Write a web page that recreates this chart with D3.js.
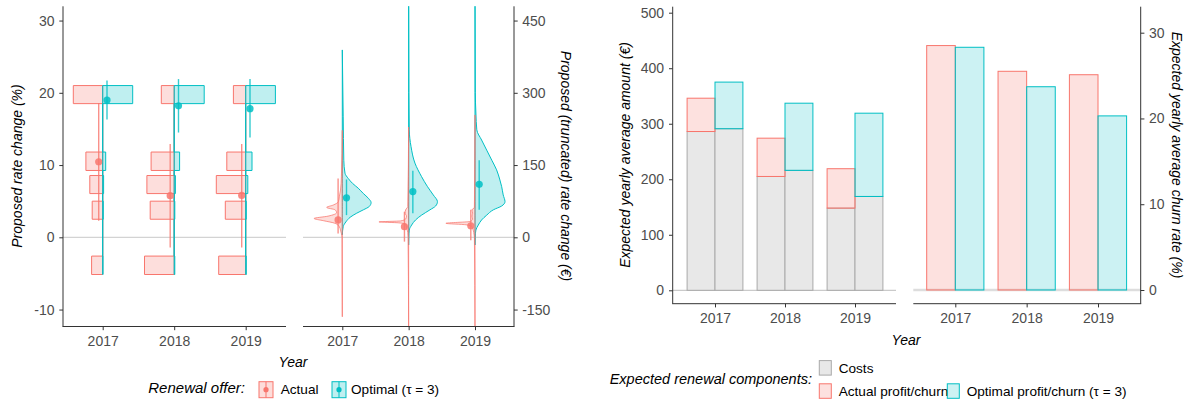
<!DOCTYPE html>
<html><head><meta charset="utf-8">
<script src="https://cdn.jsdelivr.net/npm/d3@7"></script>
<style>body{margin:0;background:#fff} text{font-family:"Liberation Sans",Arial,Helvetica,sans-serif}</style>
</head><body><svg id="c" width="1199" height="405"></svg>
<script>
// ---------- data ----------
const years = ["2017", "2018", "2019"];
const yearIdx = [1, 2, 3];
// histogram bins of proposed rate change (%)
const binLo = [18.5, 9.25, 6.05, 2.5, -5.15];
const binHi = [21.0, 11.8, 8.55, 5.0, -2.6];
// relative frequency per bin (per year)
const histActual = [[0.98, 0.56, 0.43, 0.35, 0.37], [0.43, 0.77, 0.91, 0.80, 0.99], [0.41, 0.63, 0.98, 0.68, 0.90]];
const histOptimal = [[1.0, 0.10, 0.03, 0.02, 0.01], [1.0, 0.18, 0.04, 0.02, 0.02], [0.99, 0.21, 0.07, 0.02, 0.02]];
// point ranges (%)
const rateActual = [10.46, 5.76, 5.8], rateActualLo = [2.3, -1.4, -1.4], rateActualHi = [18.6, 12.9, 12.9];
const rateOptimal = [19.0, 18.2, 17.8], rateOptimalLo = [16.3, 14.5, 13.8], rateOptimalHi = [21.7, 21.9, 21.9];
// violins of truncated rate change (€): [value, relative density]
const vioActual2017 = [[222, 0], [126, 0.03], [98, 0.06], [84, 0.1], [74, 0.13], [67, 0.3], [62, 0.52], [57, 0.24], [51, 0.19], [44, 0.47], [39, 0.94], [34.5, 0.63], [29, 0.24], [22, 0.1], [15, 0.06], [8, 0.03], [0, 0.01], [-165, 0]];
const vioActual2018 = [[229, 0], [64, 0.03], [57, 0.1], [50, 0.12], [44, 0.07], [38, 0.1], [34, 0.27], [32, 0.99], [30, 0.33], [27, 0.1], [20, 0.07], [10, 0.03], [0, 0.02], [-200, 0]];
const vioActual2019 = [[254, 0], [62, 0.02], [57, 0.1], [50, 0.08], [44, 0.1], [38, 0.08], [33, 0.15], [29, 0.97], [26, 0.3], [22, 0.1], [15, 0.06], [5, 0.03], [0, 0.02], [-200, 0]];
const vioOptimal2017 = [[389, 0], [250, 0.03], [160, 0.05], [133, 0.09], [122, 0.2], [112, 0.34], [102, 0.53], [91, 0.7], [81, 0.87], [72, 0.96], [64, 0.9], [57, 0.7], [50, 0.48], [41.5, 0.26], [32, 0.12], [22, 0.03], [5, 0]];
const vioOptimal2018 = [[520, 0], [300, 0.01], [223, 0.02], [188, 0.08], [154, 0.21], [126, 0.43], [105, 0.63], [88, 0.82], [74, 0.96], [65, 0.9], [57, 0.71], [46, 0.43], [36, 0.23], [25.5, 0.1], [15, 0.02], [0, 0.005], [-16, 0]];
const vioOptimal2019 = [[520, 0], [300, 0.01], [258, 0.03], [223, 0.06], [202, 0.22], [181, 0.39], [160, 0.56], [140, 0.72], [119, 0.83], [105, 0.89], [88, 0.94], [74, 1.0], [65, 0.89], [57, 0.61], [46, 0.39], [36, 0.22], [25.5, 0.11], [15, 0.03], [0, 0.005], [-16, 0]];
const eurActual = [36, 22, 24], eurActualLo = [8, -9, -6], eurActualHi = [122, 53, 57];
const eurOptimal = [82, 95, 110], eurOptimalLo = [46, 50, 57], eurOptimalHi = [120, 138, 160];
// expected renewal components (€)
const costActual = [286, 205, 148];
const profitActual = [60, 69, 71];
const costOptimal = [291, 216, 169];
const profitOptimal = [84, 121, 150];
// churn (%)
const churnActual = [28.5, 25.5, 25.1];
const churnOptimal = [28.3, 23.7, 20.3];

const ticksPct = [-10, 0, 10, 20, 30];
const ticksEur = [-150, 0, 150, 300, 450];
const ticksAmount = [0, 100, 200, 300, 400, 500];
const ticksChurn = [0, 10, 20, 30];

// ---------- style ----------
const RED = "#F8766D", TEAL = "#00BFC4";
const AX = "#333333", TXT = "#4D4D4D";
const svg = d3.select("#c");

// ---------- scales ----------
const yPct = d3.scaleLinear([-10, 30], [309.55, 20.55]);
const yEur = d3.scaleLinear([-150, 450], [309.55, 20.55]);
const yAmt = d3.scaleLinear([0, 500], [290.3, 12.7]);
const yChurn = d3.scaleLinear([0, 30], [290, 32.7]);
const x1 = d3.scaleLinear([1, 3], [102.7, 245.7]);
const x2 = d3.scaleLinear([1, 3], [342.3, 475]);
const x3 = d3.scaleLinear([1, 3], [715, 855]);
const x4 = d3.scaleLinear([1, 3], [955.3, 1098]);
const wHist = d3.scaleLinear([0, 1], [0, 30]);
const wVio = d3.scaleLinear([0, 1], [0, 30]);
const P1 = {l: 63, r: 286, t: 6.3, b: 326.5};
const P2 = {l: 303, r: 514, t: 6.3, b: 326.5};
const P3 = {l: 672.7, r: 896, t: 6.7, b: 303.7};
const P4 = {l: 913.3, r: 1140.7, t: 6.7, b: 303.7};

function hline(x0, x1_, y, color, w) {
  svg.append("line").attr("x1", x0).attr("x2", x1_).attr("y1", y).attr("y2", y)
    .attr("stroke", color).attr("stroke-width", w);
}
function vline(x, y0, y1, color, w) {
  svg.append("line").attr("x1", x).attr("x2", x).attr("y1", y0).attr("y2", y1)
    .attr("stroke", color).attr("stroke-width", w);
}
function styleAxis(g) {
  g.select(".domain").remove();
  g.selectAll(".tick line").attr("stroke", AX).attr("stroke-width", 1);
  g.selectAll(".tick text").attr("fill", TXT).attr("font-size", 14)
    .attr("font-family", "Liberation Sans, Arial, sans-serif");
}
const fmt = d => String(d);
function drawYAxis(scale, ticks, x, side, pad) {
  const ax = (side === "left" ? d3.axisLeft(scale) : d3.axisRight(scale))
    .tickValues(ticks).tickFormat(fmt).tickSize(3.7).tickPadding(pad).tickSizeOuter(0);
  const g = svg.append("g").attr("transform", `translate(${x},0)`).call(ax);
  styleAxis(g);
}
function drawXAxis(scale, y, pad) {
  const ax = d3.axisBottom(scale).tickValues(yearIdx).tickFormat(i => years[i - 1])
    .tickSize(3.7).tickPadding(pad).tickSizeOuter(0);
  const g = svg.append("g").attr("transform", `translate(0,${y})`).call(ax);
  styleAxis(g);
}
function pointRange(x, y, v, lo, hi, color) {
  svg.append("line").attr("x1", x).attr("x2", x).attr("y1", y(lo)).attr("y2", y(hi))
    .attr("stroke", color).attr("stroke-width", 1.4).attr("stroke-opacity", 0.8);
  svg.append("circle").attr("cx", x).attr("cy", y(v)).attr("r", 3.6)
    .attr("fill", color).attr("fill-opacity", 0.85);
}

// ---------- Panel 1: histograms ----------
hline(P1.l, P1.r, yPct(0), "#c8c8c8", 1);
const order = d3.range(binLo.length).sort((a, b) => binLo[a] - binLo[b]);
function histPath(cx, dir, freqs) {
  const pts = [[cx, yPct(binLo[order[0]])]];
  order.forEach(i => {
    const w = dir * wHist(freqs[i]);
    pts.push([cx, yPct(binLo[i])], [cx + w, yPct(binLo[i])], [cx + w, yPct(binHi[i])], [cx, yPct(binHi[i])]);
  });
  return d3.line()(pts) + "Z";
}
yearIdx.forEach((yr, k) => {
  svg.append("path").attr("d", histPath(x1(yr), -1, histActual[k]))
    .attr("fill", RED).attr("fill-opacity", 0.24).attr("stroke", RED).attr("stroke-width", 1);
  svg.append("path").attr("d", histPath(x1(yr), 1, histOptimal[k]))
    .attr("fill", TEAL).attr("fill-opacity", 0.25).attr("stroke", TEAL).attr("stroke-width", 1);
});
yearIdx.forEach((yr, k) => {
  pointRange(x1(yr) - 4, yPct, rateActual[k], rateActualLo[k], rateActualHi[k], RED);
  pointRange(x1(yr) + 4.3, yPct, rateOptimal[k], rateOptimalLo[k], rateOptimalHi[k], TEAL);
});
vline(P1.l, P1.t, P1.b, AX, 1);
hline(P1.l - 0.5, P1.r, P1.b, AX, 1);
drawYAxis(yPct, ticksPct, P1.l, "left", 4.8);
drawXAxis(x1, P1.b, 5.6);

// ---------- Panel 2: half violins ----------
svg.append("defs").append("clipPath").attr("id", "clip2").append("rect")
  .attr("x", P2.l).attr("y", P2.t).attr("width", P2.r - P2.l).attr("height", P2.b - P2.t);
hline(P2.l, P2.r, yEur(0), "#c8c8c8", 1);
const g2 = svg.append("g").attr("clip-path", "url(#clip2)");
const vioOpt = [vioOptimal2017, vioOptimal2018, vioOptimal2019];
const vioAct = [vioActual2017, vioActual2018, vioActual2019];
function vioArea(cx, dir) {
  return d3.area().curve(d3.curveMonotoneY)
    .y(d => yEur(d[0])).x0(cx).x1(d => cx + dir * wVio(d[1]));
}
yearIdx.forEach((yr, k) => {
  g2.append("path").attr("d", vioArea(x2(yr), 1)(vioOpt[k]))
    .attr("fill", TEAL).attr("fill-opacity", 0.25).attr("stroke", TEAL).attr("stroke-width", 1);
});
yearIdx.forEach((yr, k) => {
  g2.append("path").attr("d", vioArea(x2(yr), -1)(vioAct[k]))
    .attr("fill", RED).attr("fill-opacity", 0.25).attr("stroke", RED).attr("stroke-width", 1).attr("stroke-opacity", 0.75);
});
yearIdx.forEach((yr, k) => {
  pointRange(x2(yr) - 4.2, yEur, eurActual[k], eurActualLo[k], eurActualHi[k], RED);
  pointRange(x2(yr) + 4.2, yEur, eurOptimal[k], eurOptimalLo[k], eurOptimalHi[k], TEAL);
});
vline(P2.r, P2.t, P2.b, AX, 1);
hline(P2.l, P2.r + 0.5, P2.b, AX, 1);
drawYAxis(yEur, ticksEur, P2.r, "right", 4.5);
drawXAxis(x2, P2.b, 5.6);

// ---------- Panel 3: stacked amounts ----------
hline(P3.l, P3.r, yAmt(0), "#bdbdbd", 1);
const bw3 = 27.9;
yearIdx.forEach((yr, k) => {
  const xa = x3(yr) - bw3, xo = x3(yr);
  svg.append("rect").attr("x", xa).attr("width", bw3).attr("y", yAmt(costActual[k])).attr("height", yAmt(0) - yAmt(costActual[k]))
    .attr("fill", "#e8e8e8").attr("stroke", "#a9a9a9").attr("stroke-width", 1);
  svg.append("rect").attr("x", xo).attr("width", bw3).attr("y", yAmt(costOptimal[k])).attr("height", yAmt(0) - yAmt(costOptimal[k]))
    .attr("fill", "#e8e8e8").attr("stroke", "#a9a9a9").attr("stroke-width", 1);
  const ta = costActual[k] + profitActual[k], to = costOptimal[k] + profitOptimal[k];
  svg.append("rect").attr("x", xa).attr("width", bw3).attr("y", yAmt(ta)).attr("height", yAmt(costActual[k]) - yAmt(ta))
    .attr("fill", RED).attr("fill-opacity", 0.22).attr("stroke", RED).attr("stroke-width", 1);
  svg.append("rect").attr("x", xo).attr("width", bw3).attr("y", yAmt(to)).attr("height", yAmt(costOptimal[k]) - yAmt(to))
    .attr("fill", TEAL).attr("fill-opacity", 0.2).attr("stroke", TEAL).attr("stroke-width", 1);
});
vline(P3.l, P3.t, P3.b, AX, 1);
hline(P3.l - 0.5, P3.r, P3.b, AX, 1);
drawYAxis(yAmt, ticksAmount, P3.l, "left", 5);
drawXAxis(x3, P3.b, 5.6);

// ---------- Panel 4: churn ----------
hline(P4.l, P4.r, yChurn(0), "#dddddd", 2.5);
const bw4 = 28.6;
yearIdx.forEach((yr, k) => {
  svg.append("rect").attr("x", x4(yr) - bw4).attr("width", bw4).attr("y", yChurn(churnActual[k])).attr("height", yChurn(0) - yChurn(churnActual[k]))
    .attr("fill", RED).attr("fill-opacity", 0.22).attr("stroke", RED).attr("stroke-width", 1);
  svg.append("rect").attr("x", x4(yr)).attr("width", bw4).attr("y", yChurn(churnOptimal[k])).attr("height", yChurn(0) - yChurn(churnOptimal[k]))
    .attr("fill", TEAL).attr("fill-opacity", 0.2).attr("stroke", TEAL).attr("stroke-width", 1);
});
vline(P4.r, P4.t, P4.b, AX, 1);
hline(P4.l, P4.r + 0.5, P4.b, AX, 1);
drawYAxis(yChurn, ticksChurn, P4.r, "right", 4.5);
drawXAxis(x4, P4.b, 5.6);

// ---------- titles ----------
function title(x, y, rot, str, size) {
  svg.append("text").attr("transform", `translate(${x},${y}) rotate(${rot})`)
    .attr("text-anchor", "middle").attr("dominant-baseline", "central")
    .attr("font-size", size || 14).attr("font-style", "italic").attr("fill", "#000").text(str);
}
title(16.5, 166, -90, "Proposed rate change (%)");
title(566, 166, 90, "Proposed (truncated) rate change (€)");
title(625, 155, -90, "Expected yearly average amount (€)");
title(1176.5, 155, 90, "Expected yearly average churn rate (%)");
svg.append("text").attr("x", 293).attr("y", 367).attr("text-anchor", "middle").attr("font-size", 14)
  .attr("font-style", "italic").attr("fill", "#000").text("Year");
svg.append("text").attr("x", 906).attr("y", 345).attr("text-anchor", "middle").attr("font-size", 14)
  .attr("font-style", "italic").attr("fill", "#000").text("Year");

// ---------- legends ----------
const legLeftLabels = ["Actual", "Optimal (τ = 3)"];
const legLeftColors = [RED, TEAL];
const legLeftX = [259, 332];
const legLeftTextX = [280.7, 351];
svg.append("text").attr("x", 245).attr("y", 393).attr("text-anchor", "end").attr("font-size", 15)
  .attr("font-style", "italic").attr("fill", "#000").text("Renewal offer:");
legLeftLabels.forEach((lab, i) => {
  const x = legLeftX[i], y = 381.7, w = 14, h = 16;
  svg.append("rect").attr("x", x).attr("y", y).attr("width", w).attr("height", h)
    .attr("fill", legLeftColors[i]).attr("fill-opacity", 0.25).attr("stroke", legLeftColors[i]).attr("stroke-width", 1);
  svg.append("line").attr("x1", x + w / 2).attr("x2", x + w / 2).attr("y1", y).attr("y2", y + h)
    .attr("stroke", legLeftColors[i]).attr("stroke-width", 1.2).attr("stroke-opacity", 0.85);
  svg.append("circle").attr("cx", x + w / 2).attr("cy", y + h / 2).attr("r", 2.6).attr("fill", legLeftColors[i]);
  svg.append("text").attr("x", legLeftTextX[i]).attr("y", 394).attr("font-size", 13.6).attr("fill", "#000").text(lab);
});

const legRightLabels = ["Costs", "Actual profit/churn", "Optimal profit/churn (τ = 3)"];
const legRightFill = ["#e8e8e8", RED, TEAL];
const legRightStroke = ["#a9a9a9", RED, TEAL];
const legRightOpacity = [1, 0.22, 0.2];
const legRightX = [819.3, 819.3, 947.3];
const legRightY = [360.6, 383.8, 383.8];
svg.append("text").attr("x", 812).attr("y", 384).attr("text-anchor", "end").attr("font-size", 14.5)
  .attr("font-style", "italic").attr("fill", "#000").text("Expected renewal components:");
legRightLabels.forEach((lab, i) => {
  svg.append("rect").attr("x", legRightX[i]).attr("y", legRightY[i]).attr("width", 12).attr("height", 14.5)
    .attr("fill", legRightFill[i]).attr("fill-opacity", legRightOpacity[i]).attr("stroke", legRightStroke[i]).attr("stroke-width", 1);
  svg.append("text").attr("x", legRightX[i] + 19.4).attr("y", legRightY[i] + 12).attr("font-size", 13.6)
    .attr("fill", "#000").text(lab);
});
</script></body></html>
